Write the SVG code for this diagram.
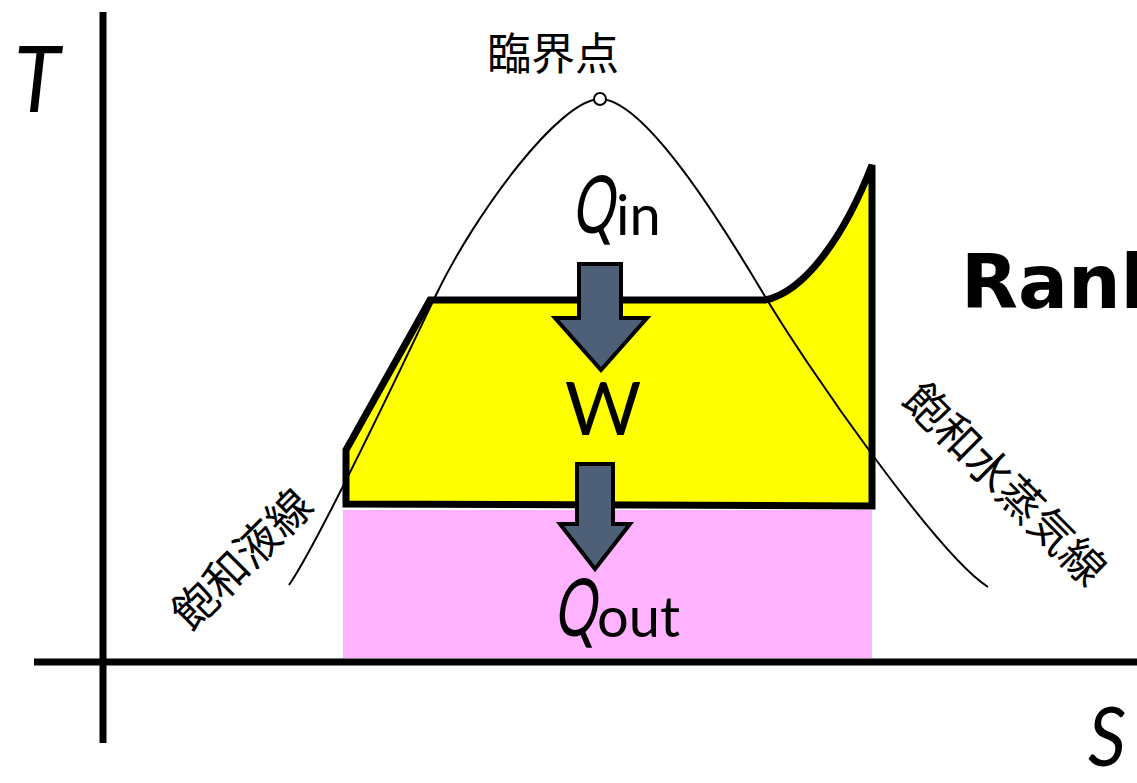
<svg xmlns="http://www.w3.org/2000/svg" width="1137" height="783" viewBox="0 0 1137 783">
<style>
.ax{stroke:#000;stroke-width:7;fill:none}
.thin{stroke:#000;stroke-width:2;fill:none}
.arrow{fill:#4e5f78;stroke:#000;stroke-width:4;stroke-linejoin:miter}
.lat{font-family:Lato,"Open Sans","Noto Sans",sans-serif;fill:#000}
.jp{font-family:"Noto Sans CJK JP","Noto Sans CJK SC",sans-serif;fill:#000}
</style>
<rect width="1137" height="783" fill="#fff"/>
<g id="areas">
<rect id="qout-area" x="343" y="510" width="529" height="148" fill="#ffb3ff"/>
<path id="cycle" d="M346,504 L346,450 L430,300 L765,300 C805,292 845,235 872,165 L872,506 Z" fill="#ffff00" stroke="#000" stroke-width="7" stroke-linejoin="miter"/>
</g>
<g id="saturation-dome">
<path class="thin" d="M289,585 C320,540 405,360 435,297 C475,213 560,99 600,99 C645,99 723,226 763,293 C808,369 938,555 988,587"/>
<circle id="critical-point" cx="600" cy="99" r="6" fill="#fff" stroke="#000" stroke-width="2"/>
</g>
<g id="axes">
<line class="ax" x1="103" y1="12" x2="103" y2="743"/>
<line class="ax" x1="34" y1="662" x2="1137" y2="662"/>
</g>
<g id="connectors">
<polygon class="arrow" points="579,264 621,264 621,318 647,318 601,370 555,318 579,318"/>
<polygon class="arrow" points="577,464 613,464 613,524 630,524 595,569 560,524 577,524"/>
</g>
<g id="labels">
<text class="lat" x="14" y="112" font-size="92" font-style="italic" textLength="46" lengthAdjust="spacingAndGlyphs">T</text>
<text class="lat" x="1088" y="766" font-size="82" font-style="italic" textLength="38" lengthAdjust="spacingAndGlyphs">S</text>
<text class="jp" x="553" y="70" font-size="44" text-anchor="middle">臨界点</text>
<text class="lat" transform="translate(571,233) skewX(-10)" x="0" y="0" font-size="80" textLength="42" lengthAdjust="spacingAndGlyphs">Q</text>
<text class="lat" x="616" y="235" font-size="56">in</text>
<text class="lat" x="603" y="435" font-size="74" text-anchor="middle">W</text>
<text class="lat" transform="translate(553,636) skewX(-10)" x="0" y="0" font-size="80" textLength="42" lengthAdjust="spacingAndGlyphs">Q</text>
<text class="lat" x="597" y="637" font-size="56">out</text>
<text x="961" y="308" font-family="'DejaVu Sans',Verdana,sans-serif" font-weight="bold" font-size="74">Rank</text>
<text class="jp" transform="translate(242,559) rotate(-45)" x="0" y="16" font-size="44" text-anchor="middle">飽和液線</text>
<text class="jp" transform="translate(1005,484) rotate(45)" x="0" y="16" font-size="44" text-anchor="middle">飽和水蒸気線</text>
</g>
</svg>
